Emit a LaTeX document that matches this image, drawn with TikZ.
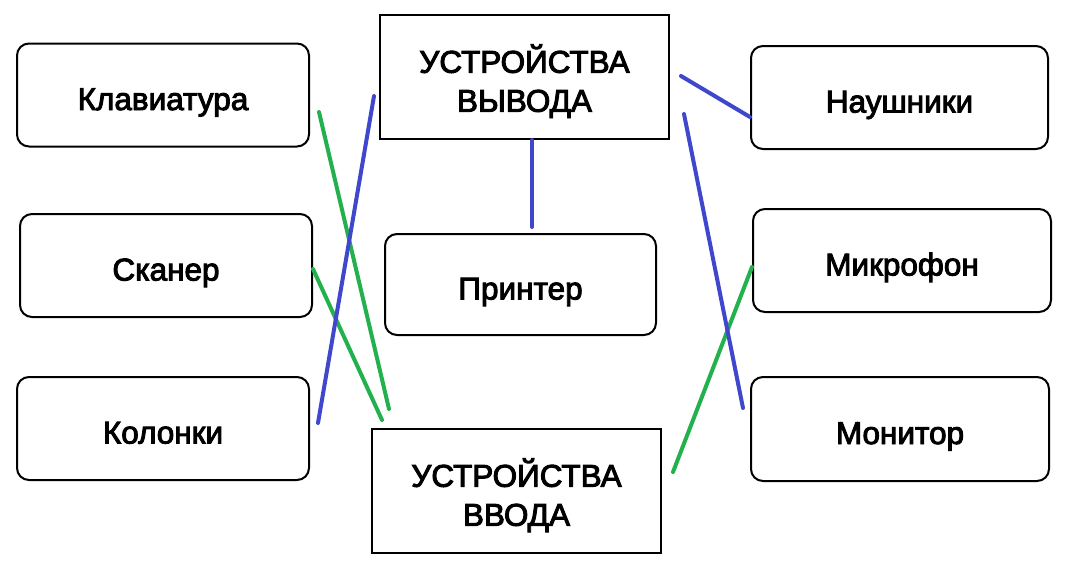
\documentclass[tikz,border=0pt]{standalone}
\usepackage{fontspec}
\setmainfont{Liberation Sans}[BoldFont={Liberation Sans},BoldFeatures={FakeBold=3}]
\begin{document}
\begin{tikzpicture}[x=1pt,y=-1pt,
   dev/.style={draw,line width=2pt,rounded corners=12pt,inner sep=0pt,
     minimum width=292pt,minimum height=103pt,text height=30pt,text depth=0pt,
     font=\fontsize{31.5}{39}\selectfont\bfseries},
   group/.style={draw,line width=2pt,inner sep=0pt,align=center,
     minimum width=289pt,minimum height=124pt,text height=69.5pt,text depth=0pt,
     font=\fontsize{31.5}{39}\selectfont\bfseries},
   blueline/.style={draw={rgb,255:red,63;green,72;blue,204},line width=4pt,line cap=round},
   greenline/.style={draw={rgb,255:red,34;green,177;blue,76},line width=4pt,line cap=round}]
   \useasboundingbox (0,0) rectangle (1072,563);

   \node[dev] (klav) at (163,95) {Клавиатура};
   \node[dev] (skan) at (166,265.5) {Сканер};
   \node[dev] (kolon) at (163,428.5) {Колонки};

   \node[group] (vyvod) at (524.5,77) {УСТРОЙСТВА\\ВЫВОДА};
   \node[dev,minimum width=271pt,minimum height=101pt] (print) at (520.5,284.5) {Принтер};
   \node[group] (vvod) at (516.5,491) {УСТРОЙСТВА\\ВВОДА};

   \node[dev,minimum width=297pt] (naush) at (899.5,97.5) {Наушники};
   \node[dev,minimum width=298pt] (mikro) at (902,260.5) {Микрофон};
   \node[dev,minimum width=298pt,minimum height=104pt] (monit) at (900,429) {Монитор};

   \coordinate (klav-a) at (319,112);
   \coordinate (vvod-a) at (389,409);
   \coordinate (vvod-b) at (382,420);
   \coordinate (vvod-c) at (673,472);
   \coordinate (kolon-a) at (318,423);
   \coordinate (vyvod-a) at (374,96);
   \coordinate (print-a) at (532,227);
   \coordinate (vyvod-b) at (681,76);
   \coordinate (vyvod-c) at (684,114);
   \coordinate (monit-a) at (743,408);

   \draw[greenline] (klav-a) -- (vvod-a);
   \draw[greenline] (skan.east |- 0,269) -- (vvod-b);
   \draw[greenline] (mikro.west |- 0,267) -- (vvod-c);

   \draw[blueline] (kolon-a) -- (vyvod-a);
   \draw[blueline] (vyvod.south -| print-a) -- (print-a);
   \draw[blueline] (vyvod-b) -- (naush.west |- 0,117);
   \draw[blueline] (vyvod-c) -- (monit-a);
 \end{tikzpicture}
\end{document}
